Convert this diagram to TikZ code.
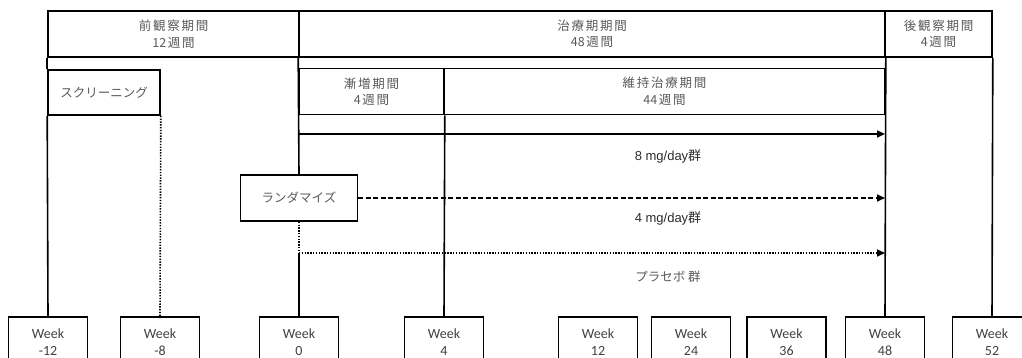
\documentclass[tikz,border=0pt]{standalone}
\usepackage{fontspec}
\newfontfamily\jp{Noto Sans CJK JP}
\newfontfamily\jpw[LetterSpace=14]{Noto Sans CJK JP}
\newfontfamily\carl{Carlito}
\newfontfamily\arl{Liberation Sans}
\usetikzlibrary{arrows.meta}
\definecolor{lbl}{HTML}{595959}
\definecolor{wkc}{HTML}{404040}
\definecolor{grpc}{HTML}{2B2B2B}
\newcommand{\dg}[1]{{\jp\fontsize{12.5}{16.5}\selectfont #1\hspace{1.5pt}}}
\begin{document}
\begin{tikzpicture}[x=1pt,y=-1pt,
  box/.style={draw=black, line width=1.6pt, rectangle, inner sep=0pt, align=center, text=lbl,
    font=\jpw\fontsize{12.5}{16.5}\selectfont},
  kbox/.style={box, font=\jp\fontsize{12.5}{16.5}\selectfont},
  wk/.style={draw=black, line width=1.6pt, rectangle, minimum width=79pt, minimum height=50pt,
    inner sep=0pt, align=center, text=wkc, font=\carl\fontsize{14}{17}\selectfont},
  conn/.style={line width=1.6pt},
  arr/.style={conn, -{Triangle[length=8pt,width=7pt]}},
  dashline/.style={dash pattern=on 5pt off 2.5pt},
  dotline/.style={dash pattern=on 1.4pt off 1.4pt},
  grp/.style={inner sep=0pt, text=grpc, font=\arl\fontsize{13}{16}\selectfont},
]
\useasboundingbox (0,0) rectangle (1022,358);
\clip (0,0) rectangle (1022,358);

% period boxes
\node[box, minimum width=251pt, minimum height=46pt] (pre) at (173.5,34) {前観察期間\\\dg{12}週間};
\node[box, minimum width=586pt, minimum height=46pt] (treat) at (592,34) {治療期期間\\\dg{48}週間};
\node[box, minimum width=107pt, minimum height=46pt] (post) at (938.5,34) {後観察期間\\\dg{4}週間};

\node[box, minimum width=145pt, minimum height=46pt] (titr) at (371.5,91.5) {漸増期間\\\dg{4}週間};
\node[box, minimum width=441pt, minimum height=46pt] (maint) at (664.5,91.5) {維持治療期間\\\dg{44}週間};

\node[kbox, minimum width=112pt, minimum height=45pt] (screen) at (104,92.5) {スクリーニング};
\node[kbox, minimum width=117pt, minimum height=46pt, fill=white] (rand) at (299,198) {ランダマイズ};

% week boxes
\node[wk] (wm12) at (48,342) {Week\\-12};
\node[wk] (wm8) at (160,342) {Week\\-8};
\node[wk] (w0) at (299,342) {Week\\0};
\node[wk] (w4) at (444,342) {Week\\4};
\node[wk] (w12) at (598,342) {Week\\12};
\node[wk] (w24) at (691,342) {Week\\24};
\node[wk] (w36) at (786.5,342) {Week\\36};
\node[wk] (w48) at (885,342) {Week\\48};
\node[wk] (w52) at (992,342) {Week\\52};

% coordinates
\coordinate (a8s) at (299,134);
\coordinate (a8e) at (885,134);
\coordinate (a4e) at (885,198);
\coordinate (pls) at (299,253);
\coordinate (ple) at (885,253);

% connectors
\draw[conn] (pre.south west) -- (screen.north west);
\draw[conn] (screen.south west) -- (wm12.north);
\draw[conn, dotline] (screen.south east) -- (wm8.north);
\draw[conn] (treat.south west) -- (rand.north);
\draw[conn, dotline] (rand.south) -- (pls);
\draw[conn] (pls) -- (w0.north);
\draw[conn] (titr.south east) -- (w4.north);
\draw[conn] (treat.south east) -- (w48.north);
\draw[conn] (post.south east) -- (w52.north);

\draw[arr] (a8s) -- (a8e);
\draw[arr, dashline] (rand.east) -- (a4e);
\draw[arr, dotline] (pls) -- (ple);

% group labels
\node[grp] (g8) at (668,156) {8 mg/day{\jp 群}};
\node[grp] (g4) at (668,218) {4 mg/day{\jp 群}};
\node[grp, text=lbl, font=\jp\fontsize{12.5}{16}\selectfont] (gp) at (668,277) {プラセボ 群};
\end{tikzpicture}
\end{document}
